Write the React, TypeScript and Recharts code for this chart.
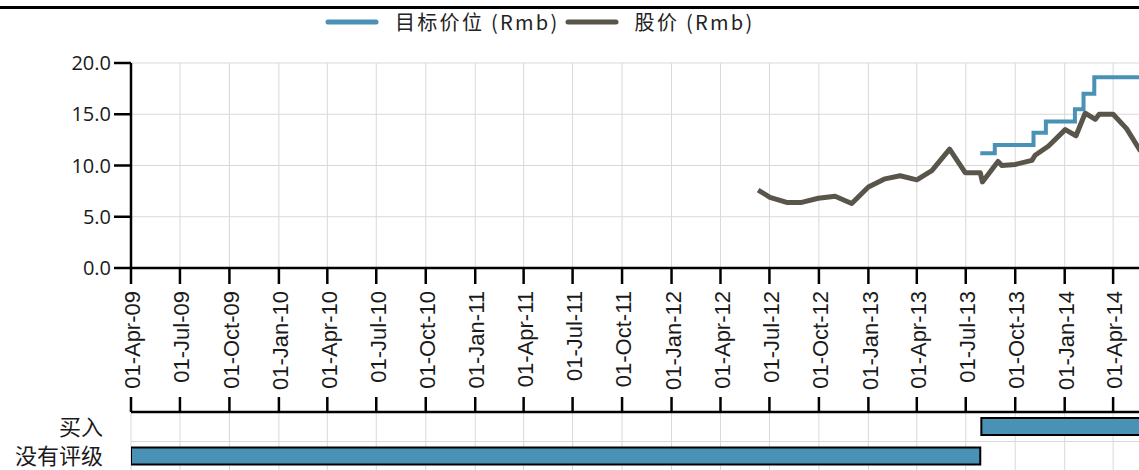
import React from "react";
import {
  ComposedChart,
  BarChart,
  Bar,
  Line,
  XAxis,
  YAxis,
  CartesianGrid,
  Legend,
} from "recharts";

// 股价 (Rmb), monthly-ish points
const priceDates = [
  "2012-06-10", "2012-07-02", "2012-08-02", "2012-08-30", "2012-09-30",
  "2012-10-31", "2012-12-01", "2013-01-01", "2013-02-01", "2013-03-01",
  "2013-04-01", "2013-04-29", "2013-06-01", "2013-06-30", "2013-07-28",
  "2013-08-01", "2013-08-30", "2013-09-06", "2013-10-01", "2013-11-01",
  "2013-11-07", "2013-12-02", "2014-01-02", "2014-01-22", "2014-02-08",
  "2014-02-27", "2014-03-06", "2014-04-01", "2014-04-26", "2014-05-22",
];
const priceValues = [
  7.6, 6.9, 6.4, 6.4, 6.8,
  7.0, 6.3, 7.9, 8.7, 9.0,
  8.6, 9.5, 11.6, 9.3, 9.3,
  8.4, 10.4, 10.0, 10.1, 10.5,
  11.0, 11.9, 13.5, 12.9, 15.1,
  14.5, 15.0, 15.0, 13.6, 11.4,
];

// 目标价位 (Rmb), step changes
const targetDates = [
  "2013-07-28", "2013-08-24", "2013-11-04", "2013-11-27",
  "2014-01-20", "2014-02-05", "2014-02-25", "2014-05-31",
];
const targetValues = [11.2, 12.0, 13.2, 14.3, 15.5, 17.0, 18.6, 18.6];

const tickDates = [
  "2009-04-01", "2009-07-01", "2009-10-01", "2010-01-01", "2010-04-01",
  "2010-07-01", "2010-10-01", "2011-01-01", "2011-04-01", "2011-07-01",
  "2011-10-01", "2012-01-01", "2012-04-01", "2012-07-01", "2012-10-01",
  "2013-01-01", "2013-04-01", "2013-07-01", "2013-10-01", "2014-01-01",
  "2014-04-01",
];
const yTicks = [0, 5, 10, 15, 20];

const ratingNames = ["买入", "没有评级"];
const ratingStarts = ["2013-07-30", "2009-04-01"];
const ratingEnds = ["2014-09-30", "2013-07-28"];

const domainStart = "2009-04-01";
const domainEnd = "2014-09-30";

const BLUE = "#4a91b6";
const DARK = "#5a554b";
const GRID = "#d9d9d9";
const W = 1211;

const toTs = (s: string) => Date.parse(s + "T00:00:00Z");
const MONTHS = ["Jan", "Feb", "Mar", "Apr", "May", "Jun", "Jul", "Aug", "Sep", "Oct", "Nov", "Dec"];
const fmtDate = (t: number) => {
  const d = new Date(t);
  const dd = String(d.getUTCDate()).padStart(2, "0");
  const yy = String(d.getUTCFullYear() % 100).padStart(2, "0");
  return `${dd}-${MONTHS[d.getUTCMonth()]}-${yy}`;
};

const priceData = priceDates.map((d, i) => ({ t: toTs(d), v: priceValues[i] }));
const targetData = targetDates.map((d, i) => ({ t: toTs(d), v: targetValues[i] }));
const ratingData = ratingNames.map((name, i) => ({
  name,
  range: [toTs(ratingStarts[i]), toTs(ratingEnds[i])],
}));
const ticks = tickDates.map(toTs);
const domain = [toTs(domainStart), toTs(domainEnd)];

function DateTick(props: any) {
  const { x, y, payload } = props;
  return (
    <g transform={`translate(${x},${y})`}>
      <text
        transform="rotate(-90)"
        x={-5}
        dy="0.42em"
        textAnchor="end"
        fontSize={22}
        fontFamily="'Liberation Sans', Arial, sans-serif"
        fill="#1a1a1a"
      >
        {fmtDate(payload.value)}
      </text>
    </g>
  );
}

// tick marks only, no label
const NoLabel = () => <g />;

function renderLegend(props: any) {
  const items = props.payload || [];
  return (
    <div
      style={{
        display: "flex",
        alignItems: "center",
        fontFamily: "'Noto Sans CJK SC', sans-serif",
        fontSize: 20,
        color: "#222",
        whiteSpace: "nowrap",
      }}
    >
      {items.map((e: any) => (
        <span key={e.value} style={{ display: "flex", alignItems: "center", marginRight: 5 }}>
          <svg width={54} height={8}>
            <line x1={3} y1={4} x2={51} y2={4} stroke={e.color} strokeWidth={5} strokeLinecap="round" />
          </svg>
          <span style={{ marginLeft: 16, letterSpacing: 2.3 }}>{e.value}</span>
        </span>
      ))}
    </div>
  );
}

// grid line between the rating rows (band boundaries of the category axis)
const rowLines = ({ offset }: any) => {
  const n = ratingNames.length;
  return ratingNames.slice(1).map((_, i) => offset.top + ((i + 1) * offset.height) / n);
};

export default function App() {
  return (
    <div
      style={{
        position: "absolute",
        left: 0,
        top: 0,
        width: 1139,
        height: 470,
        overflow: "hidden",
        background: "#fff",
      }}
    >
      <div style={{ position: "absolute", left: 0, top: 6, width: W, height: 2.5, background: "#000" }} />
      <ComposedChart width={W} height={397} margin={{ top: 63, right: 0, bottom: 0, left: 0 }}>
        <CartesianGrid stroke={GRID} strokeWidth={1} />
        <XAxis
          dataKey="t"
          type="number"
          domain={domain}
          ticks={ticks}
          interval={0}
          allowDataOverflow
          height={129}
          tickSize={16}
          tick={<DateTick />}
          axisLine={{ stroke: "#000", strokeWidth: 2.5 }}
          tickLine={{ stroke: "#000", strokeWidth: 2.5 }}
        />
        <YAxis
          type="number"
          domain={[0, 20]}
          ticks={yTicks}
          width={131}
          tickSize={17}
          tickMargin={3}
          tickFormatter={(v: number) => v.toFixed(1)}
          tick={{ fill: "#1a1a1a", fontSize: 20, fontFamily: "'Open Sans', sans-serif" }}
          axisLine={{ stroke: "#000", strokeWidth: 2.5 }}
          tickLine={{ stroke: "#000", strokeWidth: 2.5 }}
        />
        <Legend
          verticalAlign="middle"
          content={renderLegend}
          wrapperStyle={{ position: "absolute", left: 325, top: 7, width: "auto" }}
        />
        <Line
          name="目标价位 (Rmb)"
          data={targetData}
          dataKey="v"
          type="stepAfter"
          stroke={BLUE}
          strokeWidth={4}
          dot={false}
          isAnimationActive={false}
        />
        <Line
          name="股价 (Rmb)"
          data={priceData}
          dataKey="v"
          type="linear"
          stroke={DARK}
          strokeWidth={5}
          strokeLinejoin="round"
          dot={false}
          isAnimationActive={false}
        />
      </ComposedChart>
      <BarChart
        width={W}
        height={74}
        layout="vertical"
        data={ratingData}
        margin={{ top: 0, right: 0, bottom: 0, left: 0 }}
        barCategoryGap={0}
      >
        <CartesianGrid stroke={GRID} strokeWidth={1} horizontalCoordinatesGenerator={rowLines} />
        <XAxis
          type="number"
          orientation="top"
          domain={domain}
          ticks={ticks}
          interval={0}
          allowDataOverflow
          height={15}
          tickSize={15}
          tick={<NoLabel />}
          axisLine={{ stroke: "#000", strokeWidth: 2.5 }}
          tickLine={{ stroke: "#000", strokeWidth: 2.5 }}
        />
        <YAxis
          type="category"
          dataKey="name"
          width={131}
          interval={0}
          axisLine={false}
          tickLine={false}
          tickSize={0}
          tickMargin={28}
          tick={{ fill: "#1a1a1a", fontSize: 22, fontFamily: "'Noto Sans CJK SC', sans-serif" }}
        />
        <Bar
          dataKey="range"
          fill={BLUE}
          stroke="#000"
          strokeWidth={2}
          barSize={17}
          isAnimationActive={false}
        />
      </BarChart>
    </div>
  );
}
